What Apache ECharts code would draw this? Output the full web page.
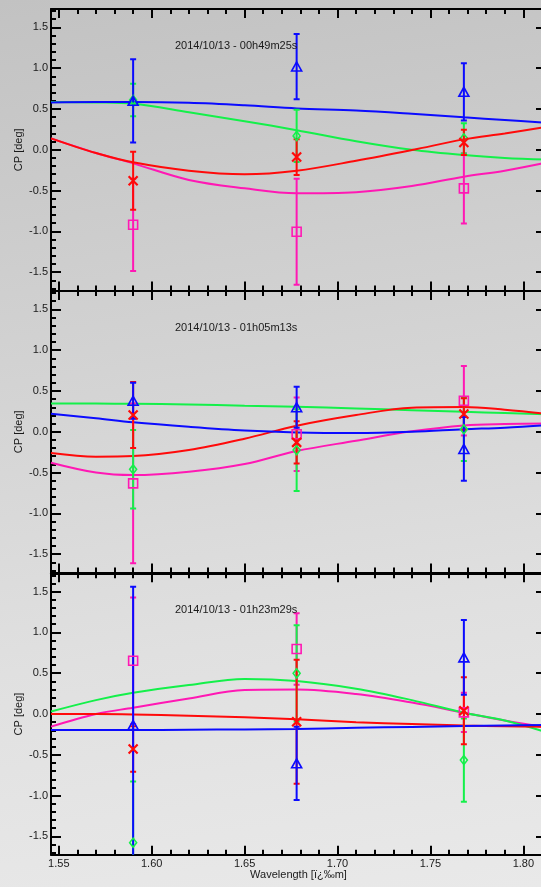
<!DOCTYPE html>
<html>
<head>
<meta charset="utf-8">
<script src="https://cdn.jsdelivr.net/npm/echarts@6/dist/echarts.min.js"></script>
<style>
html,body{margin:0;padding:0;width:541px;height:887px;overflow:hidden;
background:linear-gradient(172deg,#c2c2c2 0%,#d3d3d3 40%,#e0e0e0 70%,#e9e9e9 100%);}
#chart{width:552px;height:887px;}
</style>
</head>
<body>
<div id="chart"></div>
<script>
// ---------- data ----------
const panelTitles = ['2014/10/13 - 00h49m25s', '2014/10/13 - 01h05m13s', '2014/10/13 - 01h23m29s'];
const wavelengths = [1.590, 1.678, 1.768];
const curveWavelengths = [1.5458, 1.57, 1.59, 1.62, 1.65, 1.678, 1.71, 1.74, 1.768, 1.79, 1.812];

const xMajorTicks = [1.55, 1.60, 1.65, 1.70, 1.75, 1.80];
const xMinorTicks = [1.56, 1.57, 1.58, 1.59, 1.61, 1.62, 1.63, 1.64, 1.66, 1.67, 1.68, 1.69,
                     1.71, 1.72, 1.73, 1.74, 1.76, 1.77, 1.78, 1.79, 1.81];
const yMajorTicks = [-1.5, -1.0, -0.5, 0.0, 0.5, 1.0, 1.5];
const yMinorTicks = [-1.7, -1.6, -1.4, -1.3, -1.2, -1.1, -0.9, -0.8, -0.7, -0.6, -0.4, -0.3, -0.2, -0.1,
                     0.1, 0.2, 0.3, 0.4, 0.6, 0.7, 0.8, 0.9, 1.1, 1.2, 1.3, 1.4, 1.6, 1.7];

// panel 1
const blueCP1 = [0.60, 1.02, 0.71],      blueErr1 = [0.51, 0.40, 0.35];
const greenCP1 = [0.61, 0.17, 0.14],     greenErr1 = [0.20, 0.32, 0.185];
const redCP1 = [-0.38, -0.09, 0.09],     redErr1 = [0.355, 0.22, 0.155];
const magentaCP1 = [-0.92, -1.005, -0.473], magentaErr1 = [0.565, 0.65, 0.43];
const blueFit1 = [0.58, 0.585, 0.585, 0.575, 0.545, 0.507, 0.48, 0.44, 0.397, 0.365, 0.33];
const greenFit1 = [0.585, 0.58, 0.565, 0.46, 0.35, 0.24, 0.105, 0.0, -0.065, -0.10, -0.12];
const redFit1 = [0.14, -0.04, -0.154, -0.257, -0.30, -0.257, -0.135, -0.004, 0.127, 0.20, 0.28];
const magentaFit1 = [0.14, -0.04, -0.167, -0.37, -0.473, -0.534, -0.52, -0.445, -0.33, -0.257, -0.16];

// panel 2
const blueCP2 = [0.38, 0.30, -0.21],     blueErr2 = [0.22, 0.25, 0.39];
const greenCP2 = [-0.46, -0.225, 0.03],  greenErr2 = [0.48, 0.50, 0.39];
const redCP2 = [0.205, -0.13, 0.217],    redErr2 = [0.405, 0.26, 0.195];
const magentaCP2 = [-0.633, -0.03, 0.38], magentaErr2 = [0.98, 0.45, 0.425];
const blueFit2 = [0.22, 0.165, 0.115, 0.06, 0.015, -0.008, -0.015, 0.0, 0.03, 0.05, 0.08];
const greenFit2 = [0.345, 0.345, 0.343, 0.335, 0.32, 0.306, 0.285, 0.265, 0.245, 0.23, 0.215];
const redFit2 = [-0.26, -0.305, -0.298, -0.224, -0.085, 0.074, 0.205, 0.295, 0.303, 0.27, 0.22];
const magentaFit2 = [-0.38, -0.50, -0.531, -0.49, -0.396, -0.236, -0.11, 0.005, 0.078, 0.095, 0.10];

// panel 3
const blueCP3 = [-0.135, -0.605, 0.694], blueErr3 = [1.695, 0.45, 0.458];
const greenCP3 = [-1.577, 0.498, -0.564], greenErr3 = [0.75, 0.59, 0.51];
const redCP3 = [-0.429, -0.094, 0.04],   redErr3 = [0.28, 0.76, 0.41];
const magentaCP3 = [0.653, 0.797, 0.02], magentaErr3 = [0.775, 0.437, 0.24];
const blueFit3 = [-0.196, -0.196, -0.196, -0.193, -0.189, -0.184, -0.17, -0.158, -0.147, -0.14, -0.135];
const greenFit3 = [0.03, 0.17, 0.26, 0.355, 0.43, 0.404, 0.31, 0.17, 0.016, -0.08, -0.22];
const redFit3 = [0.0, 0.0, -0.005, -0.02, -0.04, -0.065, -0.10, -0.122, -0.14, -0.15, -0.155];
const magentaFit3 = [-0.155, 0.0, 0.077, 0.19, 0.294, 0.30, 0.245, 0.14, 0.016, -0.08, -0.165];

// ---------- styling / layout ----------
const COLORS = { blue: '#0b0bff', green: '#14f04a', red: '#ff0a0a', magenta: '#ff18b4' };
const FONT = '"Liberation Sans", Arial, Helvetica, sans-serif';
const X_MIN = 1.5458, X_MAX = 1.8122, Y_MIN = -1.725, Y_MAX = 1.725;
const gridTops = [9, 291, 573.25];
const GRID_H = 281.5;

const panels = [
  { blue: [blueCP1, blueErr1, blueFit1], green: [greenCP1, greenErr1, greenFit1],
    red: [redCP1, redErr1, redFit1], magenta: [magentaCP1, magentaErr1, magentaFit1] },
  { blue: [blueCP2, blueErr2, blueFit2], green: [greenCP2, greenErr2, greenFit2],
    red: [redCP2, redErr2, redFit2], magenta: [magentaCP2, magentaErr2, magentaFit2] },
  { blue: [blueCP3, blueErr3, blueFit3], green: [greenCP3, greenErr3, greenFit3],
    red: [redCP3, redErr3, redFit3], magenta: [magentaCP3, magentaErr3, magentaFit3] }
];

const markerStyle = {
  blue:    { symbol: 'triangle', symbolSize: [10, 9] },
  green:   { symbol: 'diamond', symbolSize: [7, 9] },
  red:     { symbol: 'path://M0,0L10,10M10,0L0,10', symbolSize: 9 },
  magenta: { symbol: 'rect', symbolSize: 9 }
};

const grids = [], xAxes = [], yAxes = [], series = [], titles = [];
const black = '#000';

function xAxisDef(g, pos, values, len, main) {
  const isBottomPanel = g === 2 && pos === 'bottom' && main;
  return {
    type: 'value', gridIndex: g, position: pos, min: X_MIN, max: X_MAX,
    axisLine: { show: main, onZero: false, lineStyle: { color: black, width: 2 } },
    axisTick: { show: true, inside: true, length: len, customValues: values, lineStyle: { color: black, width: 2 } },
    axisLabel: { show: isBottomPanel, customValues: xMajorTicks, margin: 4,
      formatter: v => v.toFixed(2), color: '#1a1a1a', fontSize: 11, fontFamily: FONT },
    splitLine: { show: false },
    name: isBottomPanel ? 'Wavelength [ï¿‰m]' : '',
    nameLocation: 'middle', nameGap: 15, nameMoveOverlap: false,
    nameTextStyle: { color: '#1a1a1a', fontSize: 11, fontFamily: FONT }
  };
}
function yAxisDef(g, pos, values, len, main) {
  const isLeftMain = pos === 'left' && main;
  return {
    type: 'value', gridIndex: g, position: pos, min: Y_MIN, max: Y_MAX,
    axisLine: { show: main, onZero: false, lineStyle: { color: black, width: 2 } },
    axisTick: { show: true, inside: true, length: len, customValues: values, lineStyle: { color: black, width: 2 } },
    axisLabel: { show: isLeftMain, customValues: yMajorTicks, margin: 3,
      formatter: v => v.toFixed(1), color: '#1a1a1a', fontSize: 11, fontFamily: FONT },
    splitLine: { show: false },
    name: isLeftMain ? 'CP [deg]' : '',
    nameLocation: 'middle', nameGap: 27, nameRotate: 90, nameMoveOverlap: false,
    nameTextStyle: { color: '#1a1a1a', fontSize: 11, fontFamily: FONT }
  };
}

function errorBarSeries(color, xi, yi, data) {
  return {
    type: 'custom', xAxisIndex: xi, yAxisIndex: yi, clip: true, z: 3,
    data: data,
    renderItem: function (params, api) {
      const x = api.value(0), y = api.value(1), e = api.value(2);
      const top = api.coord([x, y + e]);
      const bot = api.coord([x, y - e]);
      const w = 3;
      const st = { stroke: color, lineWidth: 2 };
      return { type: 'group', children: [
        { type: 'line', shape: { x1: top[0], y1: top[1], x2: bot[0], y2: bot[1] }, style: st },
        { type: 'line', shape: { x1: top[0] - w, y1: top[1], x2: top[0] + w, y2: top[1] }, style: st },
        { type: 'line', shape: { x1: bot[0] - w, y1: bot[1], x2: bot[0] + w, y2: bot[1] }, style: st }
      ]};
    }
  };
}

const lineOrder = ['magenta', 'green', 'red', 'blue'];
const barOrder = ['magenta', 'green', 'red', 'blue'];

for (let g = 0; g < 3; g++) {
  grids.push({ left: 51, top: gridTops[g], width: 495, height: GRID_H, containLabel: false });
  const xi = xAxes.length, yi = yAxes.length;
  xAxes.push(xAxisDef(g, 'bottom', xMajorTicks, 9, true));
  xAxes.push(xAxisDef(g, 'bottom', xMinorTicks, 5, false));
  xAxes.push(xAxisDef(g, 'top', xMajorTicks, 9, true));
  xAxes.push(xAxisDef(g, 'top', xMinorTicks, 5, false));
  yAxes.push(yAxisDef(g, 'left', yMajorTicks, 10, true));
  yAxes.push(yAxisDef(g, 'left', yMinorTicks, 5, false));
  yAxes.push(yAxisDef(g, 'right', yMajorTicks, 10, true));
  yAxes.push(yAxisDef(g, 'right', yMinorTicks, 5, false));

  const p = panels[g];
  lineOrder.forEach(c => {
    const fit = p[c][2];
    series.push({
      type: 'line', xAxisIndex: xi, yAxisIndex: yi, showSymbol: false, smooth: 0.35,
      clip: true, z: 2, silent: true,
      lineStyle: { color: COLORS[c], width: 2 },
      data: curveWavelengths.map((w, i) => [w, fit[i]])
    });
  });
  barOrder.forEach(c => {
    const vals = p[c][0], errs = p[c][1];
    series.push(errorBarSeries(COLORS[c], xi, yi, wavelengths.map((w, i) => [w, vals[i], errs[i]])));
  });
  barOrder.forEach(c => {
    const vals = p[c][0];
    const ms = markerStyle[c];
    series.push({
      type: 'scatter', xAxisIndex: xi, yAxisIndex: yi, z: 4, clip: true,
      symbol: ms.symbol, symbolSize: ms.symbolSize,
      itemStyle: { color: 'rgba(0,0,0,0)', borderColor: COLORS[c], borderWidth: c === 'red' ? 2.2 : 1.6, opacity: 1 },
      data: wavelengths.map((w, i) => [w, vals[i]])
    });
  });

  titles.push({
    text: panelTitles[g], left: 170, top: gridTops[g] + 26,
    textStyle: { fontSize: 11, fontWeight: 'normal', color: '#1a1a1a', fontFamily: FONT }
  });
}

const chart = echarts.init(document.getElementById('chart'), null, { renderer: 'canvas' });
chart.setOption({
  backgroundColor: 'transparent',
  animation: false,
  title: titles,
  grid: grids,
  xAxis: xAxes,
  yAxis: yAxes,
  series: series
});
</script>
</body>
</html>
